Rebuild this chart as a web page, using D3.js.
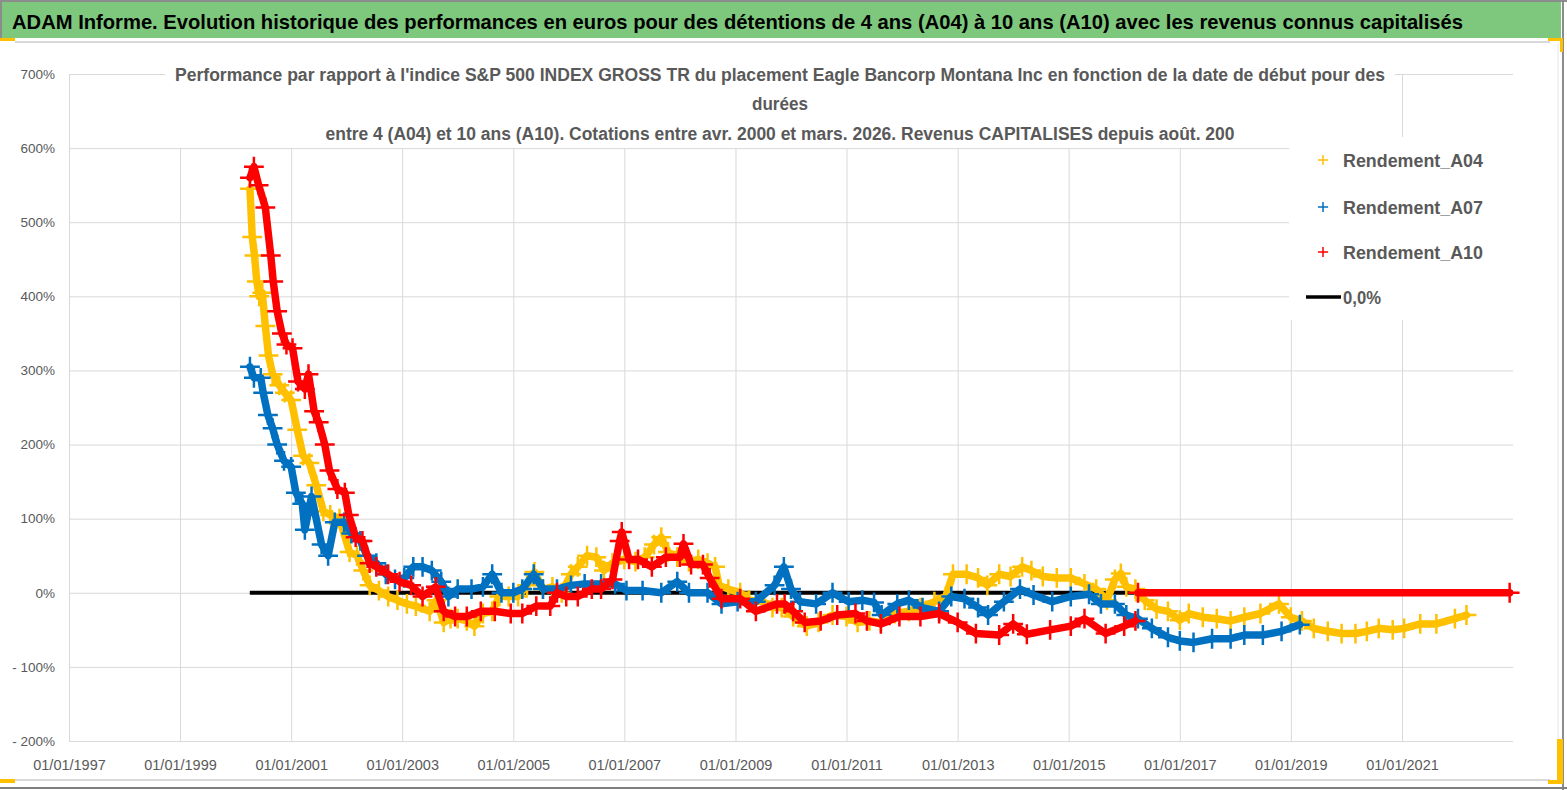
<!DOCTYPE html>
<html>
<head>
<meta charset="utf-8">
<script src="https://cdn.jsdelivr.net/npm/d3@7"></script>
<style>
  body { margin: 0; background: #fff; }
  svg { display: block; }
  .tick text { fill: #595959; font-family: "Liberation Sans", Arial, sans-serif; }
</style>
</head>
<body>
<div id="chart"></div>
<script>
// Rendement_A04 : [date de debut, performance relative en %]
var a04Points = [
  ["2000-04-05", 545], ["2000-04-20", 480], ["2000-05-05", 455], ["2000-05-20", 420],
  ["2000-06-05", 400], ["2000-06-25", 405], ["2000-07-15", 360], ["2000-08-05", 320],
  ["2000-09-01", 295], ["2000-10-15", 280], ["2000-11-20", 270], ["2001-01-01", 260],
  ["2001-02-10", 220], ["2001-03-20", 185], ["2001-05-01", 175], ["2001-06-15", 145],
  ["2001-08-01", 110], ["2001-09-15", 105], ["2001-11-15", 100], ["2002-01-20", 55],
  ["2002-03-10", 50], ["2002-04-20", 30], ["2002-06-01", 10], ["2002-08-01", 3],
  ["2002-10-01", -5], ["2002-12-01", -10], ["2003-02-01", -15], ["2003-04-01", -18],
  ["2003-07-01", -25], ["2003-08-15", -10], ["2003-10-01", -40], ["2003-11-15", -35],
  ["2004-01-01", -35], ["2004-03-01", -38], ["2004-04-20", -45], ["2004-06-15", -28],
  ["2004-08-15", -25], ["2004-10-01", -5], ["2004-12-01", -5], ["2005-02-01", -5],
  ["2005-04-01", 10], ["2005-05-20", 28], ["2005-07-15", 5], ["2005-09-15", 8],
  ["2005-11-15", 0], ["2006-01-15", 25], ["2006-03-01", 35], ["2006-05-01", 50],
  ["2006-07-01", 48], ["2006-08-20", 30], ["2006-10-15", 40], ["2007-01-01", 45],
  ["2007-03-15", 42], ["2007-05-15", 48], ["2007-07-15", 65], ["2007-09-01", 75],
  ["2007-10-15", 55], ["2007-12-15", 48], ["2008-03-01", 42], ["2008-05-01", 45],
  ["2008-07-01", 40], ["2008-08-20", 35], ["2008-09-15", 10], ["2008-11-15", 5],
  ["2009-02-01", 0], ["2009-04-01", -10], ["2009-07-01", -12], ["2009-09-01", -20],
  ["2009-11-01", -20], ["2010-01-15", -32], ["2010-04-15", -45], ["2010-07-01", -40],
  ["2010-10-01", -30], ["2011-01-01", -32], ["2011-03-15", -40], ["2011-06-01", -38],
  ["2011-08-15", -40], ["2011-11-15", -28], ["2012-02-15", -25], ["2012-05-01", -20],
  ["2012-08-01", -12], ["2012-10-15", -5], ["2012-12-01", 25], ["2013-03-01", 25],
  ["2013-05-15", 20], ["2013-07-15", 10], ["2013-10-01", 25], ["2013-12-15", 22],
  ["2014-03-01", 35], ["2014-05-01", 30], ["2014-07-15", 22], ["2014-10-15", 20],
  ["2015-01-15", 20], ["2015-04-15", 12], ["2015-07-01", 5], ["2015-09-10", -10],
  ["2015-11-01", 18], ["2015-12-10", 26], ["2016-01-15", 8], ["2016-03-15", 5],
  ["2016-05-15", -10], ["2016-08-01", -22], ["2016-10-15", -25], ["2017-01-01", -37],
  ["2017-03-01", -28], ["2017-06-01", -33], ["2017-09-01", -35], ["2017-12-01", -38],
  ["2018-03-01", -33], ["2018-06-15", -28], ["2018-10-15", -15], ["2019-01-01", -33],
  ["2019-03-15", -38], ["2019-06-01", -48], ["2019-09-01", -52], ["2019-12-01", -55],
  ["2020-03-01", -55], ["2020-05-15", -52], ["2020-08-01", -48], ["2020-11-01", -50],
  ["2021-01-15", -48], ["2021-05-01", -42], ["2021-08-15", -42], ["2021-12-15", -35],
  ["2022-03-01", -30]
];

// Rendement_A07
var a07Points = [
  ["2000-04-05", 305], ["2000-05-01", 290], ["2000-06-15", 290], ["2000-07-01", 270],
  ["2000-08-01", 240], ["2000-09-01", 222], ["2000-10-01", 200], ["2000-11-15", 178],
  ["2001-01-01", 170], ["2001-02-01", 135], ["2001-03-15", 120], ["2001-04-01", 85],
  ["2001-05-15", 130], ["2001-07-20", 65], ["2001-09-01", 50], ["2001-10-15", 95],
  ["2001-12-15", 95], ["2002-02-01", 80], ["2002-04-01", 70], ["2002-05-15", 50],
  ["2002-07-15", 40], ["2002-09-15", 25], ["2002-11-15", 18], ["2003-01-15", 20],
  ["2003-03-15", 35], ["2003-05-15", 35], ["2003-07-15", 30], ["2003-09-15", 15],
  ["2003-11-01", -5], ["2004-01-01", 5], ["2004-04-01", 5], ["2004-06-15", 8],
  ["2004-08-15", 25], ["2004-10-15", 0], ["2005-01-01", 0], ["2005-03-01", 5],
  ["2005-05-15", 25], ["2005-07-15", 5], ["2005-10-15", 5], ["2006-01-15", 10],
  ["2006-04-15", 12], ["2006-08-01", 12], ["2006-11-01", 12], ["2007-01-15", 3],
  ["2007-05-01", 3], ["2007-09-01", 0], ["2007-12-15", 15], ["2008-03-01", 0],
  ["2008-07-01", 0], ["2008-10-01", -15], ["2009-01-15", -12], ["2009-05-15", -12],
  ["2009-09-15", 10], ["2009-11-15", 35], ["2010-01-01", 5], ["2010-03-01", -12],
  ["2010-06-15", -15], ["2010-10-01", 0], ["2011-01-15", -12], ["2011-04-15", -10],
  ["2011-07-01", -13], ["2011-08-20", -30], ["2011-12-01", -15], ["2012-02-15", -10],
  ["2012-05-15", -20], ["2012-09-01", -25], ["2012-11-20", -5], ["2013-02-15", -8],
  ["2013-05-15", -20], ["2013-07-20", -30], ["2013-11-01", -12], ["2014-02-15", 5],
  ["2014-05-15", -3], ["2014-09-15", -12], ["2015-01-15", -5], ["2015-05-15", -2],
  ["2015-08-01", -15], ["2015-11-01", -15], ["2016-01-15", -30], ["2016-04-01", -35],
  ["2016-07-01", -48], ["2016-10-15", -60], ["2017-01-01", -65], ["2017-04-01", -67],
  ["2017-08-01", -62], ["2017-12-01", -62], ["2018-03-01", -57], ["2018-07-01", -57],
  ["2018-11-01", -52], ["2019-03-01", -43]
];

// Rendement_A10 (null = interruption, puis palier a 0 %)
var a10Points = [
  ["2000-04-05", 560], ["2000-05-01", 575], ["2000-06-01", 550], ["2000-07-15", 520],
  ["2000-08-20", 455], ["2000-09-05", 420], ["2000-10-01", 380], ["2000-11-01", 350],
  ["2000-12-01", 335], ["2001-01-10", 330], ["2001-02-15", 285], ["2001-04-01", 275],
  ["2001-04-25", 295], ["2001-06-01", 245], ["2001-07-01", 230], ["2001-08-10", 200],
  ["2001-09-10", 165], ["2001-11-01", 140], ["2001-12-20", 135], ["2002-01-15", 105],
  ["2002-03-01", 75], ["2002-04-15", 70], ["2002-06-01", 40], ["2002-07-15", 35],
  ["2002-10-01", 25], ["2002-12-15", 15], ["2003-03-01", 10], ["2003-05-15", -5],
  ["2003-08-10", 8], ["2003-10-01", -25], ["2003-12-15", -32], ["2004-03-01", -32],
  ["2004-06-01", -25], ["2004-09-01", -25], ["2004-12-15", -28], ["2005-03-01", -28],
  ["2005-06-01", -18], ["2005-09-01", -18], ["2005-10-15", 0], ["2005-12-15", -5],
  ["2006-03-01", -5], ["2006-06-01", 5], ["2006-08-01", 5], ["2006-10-15", 18],
  ["2006-12-01", 70], ["2006-12-15", 82], ["2007-02-01", 45], ["2007-04-01", 45],
  ["2007-07-01", 35], ["2007-10-01", 48], ["2008-01-01", 48], ["2008-01-25", 66],
  ["2008-03-15", 38], ["2008-06-01", 38], ["2008-07-15", 20], ["2008-10-01", -8],
  ["2009-02-01", -8], ["2009-05-15", -25], ["2009-10-01", -15], ["2009-11-20", -15],
  ["2010-01-15", -25], ["2010-04-01", -40], ["2010-07-15", -38], ["2010-11-01", -30],
  ["2011-03-01", -28], ["2011-05-15", -38], ["2011-08-15", -42], ["2011-12-15", -32],
  ["2012-05-01", -32], ["2012-09-01", -28], ["2013-01-01", -40], ["2013-05-01", -55],
  ["2013-10-01", -57], ["2014-01-01", -42], ["2014-04-01", -56], ["2014-09-01", -50],
  ["2015-01-15", -45], ["2015-04-15", -35], ["2015-09-01", -55], ["2016-01-01", -45],
  ["2016-03-15", -38], ["2016-03-25", null], ["2016-04-01", 0], ["2022-12-10", 0]
];

// Ligne 0,0 %
var zeroPoints = [["2000-04-04", 0], ["2022-12-31", 0]];

var seriesNames = ["Rendement_A04", "Rendement_A07", "Rendement_A10"];
var seriesColors = ["#FFC000", "#0070C0", "#FF0000"];
var xTickYears = [1997, 1999, 2001, 2003, 2005, 2007, 2009, 2011, 2013, 2015, 2017, 2019, 2021];
var yTicks = [700, 600, 500, 400, 300, 200, 100, 0, -100, -200];

var mainTitle = "ADAM Informe. Evolution historique des performances en euros pour des détentions de 4 ans (A04) à 10 ans (A10) avec les revenus connus capitalisés";
var subTitle = [
  "Performance par rapport à l'indice S&P 500 INDEX GROSS TR  du placement Eagle Bancorp Montana Inc en fonction de la date de début pour des",
  "durées",
  "entre 4 (A04) et 10 ans (A10). Cotations entre avr. 2000 et mars. 2026. Revenus CAPITALISES depuis août. 200"
];

(function() {
    var svgWidth = 1567,
        svgHeight = 790,
        margin = { top: 74, right: 54, bottom: 49, left: 69 },
        width = svgWidth - margin.left - margin.right,
        height = svgHeight - margin.top - margin.bottom;

    var parseDate = d3.timeParse("%Y-%m-%d");
    var fontFamily = "'Liberation Sans', Arial, sans-serif";

    var svg = d3.select("#chart").append("svg")
        .attr("width", svgWidth)
        .attr("height", svgHeight);

    // Frame and title band
    svg.append("rect").attr("x", 0).attr("y", 0).attr("width", svgWidth).attr("height", svgHeight).attr("fill", "#fff");
    svg.append("rect").attr("x", 1).attr("y", 2).attr("width", 1560).attr("height", 36).attr("fill", "#7DC87D");
    svg.append("line").attr("x1", 0).attr("x2", svgWidth).attr("y1", 1).attr("y2", 1).attr("stroke", "#8c8c8c").attr("stroke-width", 2);
    svg.append("line").attr("x1", 1).attr("x2", 1).attr("y1", 0).attr("y2", 38).attr("stroke", "#8c8c8c").attr("stroke-width", 2);
    svg.append("line").attr("x1", 1563).attr("x2", 1563).attr("y1", 0).attr("y2", svgHeight).attr("stroke", "#8c8c8c").attr("stroke-width", 2);
    svg.append("line").attr("x1", 0).attr("x2", svgWidth).attr("y1", 788).attr("y2", 788).attr("stroke", "#7f7f7f").attr("stroke-width", 2);
    svg.append("line").attr("x1", 15).attr("x2", 1550).attr("y1", 42).attr("y2", 42).attr("stroke", "#d9d9d9").attr("stroke-width", 2);
    svg.append("line").attr("x1", 15).attr("x2", 1550).attr("y1", 780).attr("y2", 780).attr("stroke", "#d9d9d9").attr("stroke-width", 2);
    svg.append("line").attr("x1", 1558).attr("x2", 1558).attr("y1", 43).attr("y2", 740).attr("stroke", "#e6e6e6").attr("stroke-width", 1);

    // Yellow corner marks
    var corners = svg.append("g").attr("fill", "#FFC000");
    corners.append("rect").attr("x", 0).attr("y", 38).attr("width", 15).attr("height", 3);
    corners.append("rect").attr("x", 1548).attr("y", 38).attr("width", 15).attr("height", 3);
    corners.append("rect").attr("x", 1560).attr("y", 38).attr("width", 3).attr("height", 14);
    corners.append("rect").attr("x", 0).attr("y", 779).attr("width", 15).attr("height", 4);
    corners.append("rect").attr("x", 1557).attr("y", 739).attr("width", 6).attr("height", 45);
    corners.append("rect").attr("x", 1548).attr("y", 780).attr("width", 15).attr("height", 4);

    svg.append("text")
        .attr("x", 12)
        .attr("y", 29)
        .attr("textLength", 1451)
        .attr("lengthAdjust", "spacingAndGlyphs")
        .style("font-family", fontFamily)
        .style("font-size", "21px")
        .style("font-weight", "bold")
        .attr("fill", "#000")
        .text(mainTitle);

    // Scales
    var x = d3.scaleTime()
        .domain([new Date(1997, 0, 1), new Date(2023, 0, 1)])
        .range([0, width]);

    var y = d3.scaleLinear()
        .domain([-200, 700])
        .range([height, 0]);

    var g = svg.append("g")
        .attr("transform", "translate(" + margin.left + "," + margin.top + ")");

    // Y axis with horizontal gridlines
    var yAxis = g.append("g")
        .call(d3.axisLeft(y)
            .tickValues(yTicks)
            .tickSize(-width)
            .tickPadding(14)
            .tickFormat(d => (d < 0 ? "- " + Math.abs(d) : d) + "%"));
    yAxis.select(".domain").remove();
    yAxis.selectAll(".tick line").attr("stroke", "#d9d9d9");
    yAxis.selectAll(".tick text").style("font-size", "13.5px");

    // X axis with vertical gridlines
    var xAxis = g.append("g")
        .attr("transform", "translate(0," + height + ")")
        .call(d3.axisBottom(x)
            .tickValues(xTickYears.map(yr => new Date(yr, 0, 1)))
            .tickSize(-height)
            .tickPadding(19)
            .tickFormat(d3.timeFormat("%d/%m/%Y")));
    xAxis.select(".domain").remove();
    xAxis.selectAll(".tick line").attr("stroke", "#d9d9d9");
    xAxis.selectAll(".tick text").style("font-size", "14.5px");

    // Subtitle sits on a white box above the gridlines
    svg.append("rect").attr("x", 165).attr("y", 58).attr("width", 1230).attr("height", 90).attr("fill", "#fff");
    var subLengths = [1210, 56, 909];
    var subBaselines = [81, 110, 140];
    subTitle.forEach(function(line, i) {
        svg.append("text")
            .attr("x", 780)
            .attr("y", subBaselines[i])
            .attr("text-anchor", "middle")
            .attr("textLength", subLengths[i])
            .attr("lengthAdjust", "spacingAndGlyphs")
            .style("font-family", fontFamily)
            .style("font-size", "17.5px")
            .style("font-weight", "bold")
            .attr("fill", "#595959")
            .text(line);
    });

    // Series: a thick band through the read points, with "+" marks on each point
    var line = d3.line()
        .defined(d => d[1] !== null)
        .x(d => x(parseDate(d[0])))
        .y(d => y(d[1]));

    var plus = d3.symbol(d3.symbolPlus || d3.symbolCross, 130);

    g.append("path")
        .datum(zeroPoints)
        .attr("d", line)
        .attr("fill", "none")
        .attr("stroke", "#000")
        .attr("stroke-width", 4);

    var allSeries = [a04Points, a07Points, a10Points];
    allSeries.forEach(function(points, i) {
        var sg = g.append("g");
        sg.append("path")
            .datum(points)
            .attr("d", line)
            .attr("fill", "none")
            .attr("stroke", seriesColors[i])
            .attr("stroke-width", 7.5)
            .attr("stroke-linejoin", "round")
            .attr("stroke-linecap", "round");
        sg.selectAll("path.pt")
            .data(points.filter(d => d[1] !== null))
            .join("path")
                .attr("class", "pt")
                .attr("d", plus)
                .attr("transform", d => "translate(" + x(parseDate(d[0])) + "," + y(d[1]) + ")")
                .attr("fill", "none")
                .attr("stroke", seriesColors[i])
                .attr("stroke-width", 2.5);
    });

    // Legend
    var legend = svg.append("g");
    legend.append("rect")
        .attr("x", 1289).attr("y", 137).attr("width", 266).attr("height", 183)
        .attr("fill", "#fff");
    var legendRows = seriesNames.concat(["0,0%"]);
    var legendY = [160, 207, 252, 297];
    var legendLen = [140, 140, 140, 38];
    legendRows.forEach(function(name, i) {
        if (i < 3) {
            legend.append("path")
                .attr("d", d3.symbol(d3.symbolPlus || d3.symbolCross, 36))
                .attr("transform", "translate(1323," + legendY[i] + ")")
                .attr("fill", "none")
                .attr("stroke", seriesColors[i])
                .attr("stroke-width", 1.5);
        } else {
            legend.append("line")
                .attr("x1", 1306).attr("x2", 1341)
                .attr("y1", legendY[i]).attr("y2", legendY[i])
                .attr("stroke", "#000").attr("stroke-width", 3.5);
        }
        legend.append("text")
            .attr("x", 1343)
            .attr("y", legendY[i] + 7)
            .attr("textLength", legendLen[i])
            .attr("lengthAdjust", "spacingAndGlyphs")
            .style("font-family", fontFamily)
            .style("font-size", "19px")
            .style("font-weight", "bold")
            .attr("fill", "#595959")
            .text(name);
    });
})();
</script>
</body>
</html>
